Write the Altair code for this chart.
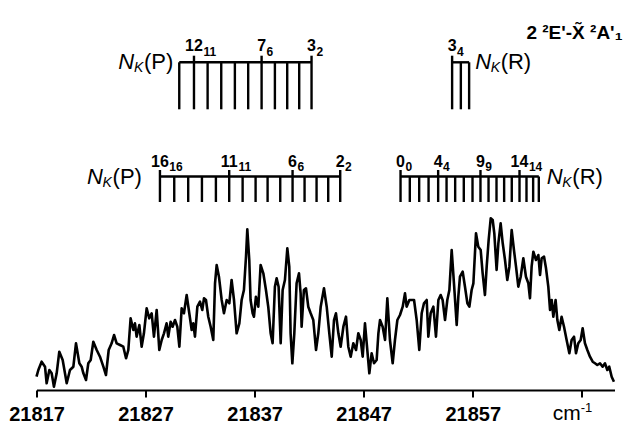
import altair as alt
import pandas as pd

FONT = "Liberation Sans"
X0 = 21817

# ---- spectrum (wavenumber offset from 21817 cm-1, intensity arb. units) ----
spec_offset = [
    0.0, 0.17, 0.47, 0.78, 0.93, 1.18, 1.39, 1.60, 1.85, 2.09,
    2.40, 2.77, 3.07, 3.38, 3.62, 3.93, 4.14, 4.30, 4.54, 4.75,
    4.97, 5.21, 5.52, 5.82, 6.13, 6.37, 6.62, 6.89, 7.11, 7.35,
    7.66, 7.96, 8.21, 8.42, 8.63, 8.88, 9.03, 9.18, 9.43, 9.64,
    9.85, 10.10, 10.34, 10.56, 10.77, 11.02, 11.26, 11.48, 11.69, 11.93,
    12.08, 12.30, 12.48, 12.70, 12.91, 13.10, 13.31, 13.52, 13.77, 14.01,
    14.23, 14.38, 14.53, 14.75, 14.99, 15.20, 15.36, 15.54, 15.75, 15.97,
    16.21, 16.37, 16.52, 16.73, 16.98, 17.19, 17.44, 17.68, 17.89, 18.11,
    18.35, 18.60, 18.81, 19.02, 19.21, 19.33, 19.51, 19.63, 19.82, 19.94,
    20.12, 20.34, 20.55, 20.80, 21.04, 21.25, 21.47, 21.65, 21.86, 22.02,
    22.20, 22.39, 22.57, 22.78, 23.00, 23.18, 23.30, 23.46, 23.64, 23.85,
    24.07, 24.22, 24.31, 24.52, 24.71, 24.92, 25.14, 25.38, 25.63, 25.84,
    26.06, 26.36, 26.61, 26.85, 27.07, 27.28, 27.46, 27.68, 27.89, 28.14,
    28.38, 28.59, 28.81, 29.05, 29.30, 29.51, 29.73, 29.91, 30.12, 30.28,
    30.52, 30.73, 30.95, 31.19, 31.35, 31.50, 31.74, 31.96, 32.17, 32.41,
    32.66, 32.87, 33.09, 33.33, 33.58, 33.79, 33.94, 34.19, 34.40, 34.62,
    34.86, 35.10, 35.32, 35.53, 35.78, 35.93, 36.14, 36.39, 36.63, 36.85,
    37.06, 37.24, 37.46, 37.67, 37.86, 38.07, 38.28, 38.53, 38.68, 38.83,
    39.08, 39.29, 39.51, 39.69, 39.90, 40.06, 40.30, 40.51, 40.73, 40.91,
    41.12, 41.28, 41.46, 41.65, 41.83, 41.98, 42.19, 42.35, 42.56, 42.75,
    42.96, 43.17, 43.36, 43.57, 43.78, 43.97, 44.18, 44.40, 44.64, 44.88,
    45.10, 45.25, 45.40, 45.56, 45.80, 46.02, 46.17, 46.32, 46.54, 46.72,
    46.93, 47.09, 47.24, 47.39, 47.60, 47.76, 47.94, 48.15, 48.37, 48.61,
    48.86, 49.07, 49.29, 49.47, 49.68, 49.90, 50.08, 50.29, 50.51, 50.75,
    51.00, 51.21, 51.42, 51.67, 51.91, 52.13, 52.34, 52.52, 52.74, 52.95,
]
spec_intensity = [
    13.3, 20, 28.3, 23.3, 6.7, 20, 16.7, 3.3, 16.7, 38.3,
    30, 6.7, 20, 23.3, 46.7, 26.7, 23.3, 16.7, 10, 26.7,
    30, 48.3, 40, 33.3, 23.3, 15, 40, 46.7, 55, 46.7,
    45, 43.3, 31.7, 40, 71.7, 60, 66.7, 53.3, 65, 43.3,
    56.7, 81.7, 71.7, 76.7, 53.3, 80, 40, 50, 56.7, 66.7,
    53.3, 68.3, 63.3, 70, 63.3, 43.3, 81.7, 76.7, 95, 76.7,
    60, 66.7, 53.3, 83.3, 88.3, 80, 91.7, 90, 73.3, 63.3,
    50, 106.7, 125, 113.3, 90, 76.7, 90, 86.7, 110, 90,
    56.7, 66.7, 90, 100, 133.3, 160.7, 130, 90, 76.7, 73.3,
    93.3, 83.3, 125, 116.7, 100, 83.3, 56.7, 46.7, 103.3, 111.7,
    103.3, 46.7, 100, 110, 141.7, 123.3, 56.7, 26.7, 56.7, 106.7,
    116.7, 96.7, 63.3, 100, 101.7, 83.3, 76.7, 70, 40, 56.7,
    83.3, 101.7, 83.3, 56.7, 33.3, 70, 76.7, 56.7, 43.3, 63.3,
    73.3, 43.3, 33.3, 46.7, 40, 56.7, 50, 33.3, 66.7, 46.7,
    16.7, 36.7, 26.7, 30, 56.7, 70, 63.3, 50, 91.7, 50,
    26.7, 50, 70, 75, 83.3, 96.7, 83.3, 90, 90, 90,
    70, 40, 76.7, 86.7, 90, 53.3, 76.7, 83.3, 53.3, 90,
    95, 90, 70, 90, 100, 140, 106.7, 65, 93.3, 113.3,
    118.3, 103.3, 86.7, 83.3, 100, 106.7, 156.7, 143.3, 140, 116.7,
    95, 123.3, 150, 171.7, 170, 156.7, 120, 146.7, 166.7, 146.7,
    130, 110, 123.3, 160, 140, 123.3, 103.3, 113.3, 131.7, 113.3,
    106.7, 91.7, 123.3, 138.3, 130, 135, 115, 131.7, 133.3, 121.7,
    103.3, 80, 90, 73.3, 90, 70, 60, 73.3, 63.3, 50,
    36.7, 50, 53.3, 36.7, 46.7, 50, 61.7, 46.7, 40, 33.3,
    28.3, 26.7, 25, 26.7, 23.3, 26.7, 20, 23.3, 13.3, 8.3,
]

# ---- rotational stick assignments (cm-1) ----
upper_p_wn = [21830.09, 21831.44, 21832.69, 21833.94, 21835.19, 21836.41,
              21837.64, 21838.86, 21839.99, 21841.09, 21842.22]
upper_p_idx = [1, 6, 10]
upper_p_main = ["12", "7", "3"]
upper_p_sub = ["11", "6", "2"]

upper_r_wn = [21855.11, 21855.91, 21856.67]
upper_r_idx = [0]
upper_r_main = ["3"]
upper_r_sub = ["4"]

lower_p_wn = [21828.32, 21829.63, 21830.91, 21832.17, 21833.45, 21834.67,
              21835.90, 21837.09, 21838.19, 21839.35, 21840.48, 21841.58,
              21842.68, 21843.75, 21844.85]
lower_p_idx = [0, 5, 10, 14]
lower_p_main = ["16", "11", "6", "2"]
lower_p_sub = ["16", "11", "6", "2"]

lower_r_wn = [21850.38, 21851.23, 21852.09, 21852.95, 21853.83, 21854.60,
              21855.39, 21856.18, 21856.98, 21857.71, 21858.45, 21859.18,
              21859.88, 21860.58, 21861.29, 21861.93, 21862.54, 21863.06]
lower_r_idx = [0, 4, 9, 14]
lower_r_main = ["0", "4", "9", "14"]
lower_r_sub = ["0", "4", "9", "14"]

tick_values = [21817, 21827, 21837, 21847, 21857, 21867]
title_text = "2 \u00b2E'-X\u0303 \u00b2A'\u2081"

# ---- layout levels (in intensity units of the shared y scale) ----
UP = dict(bar=327.7, bot=280.7, top=334.3, lbl=339.3, sub=334.0)
LO = dict(bar=213.5, bot=188.0, top=220.0, lbl=223.3, sub=219.5)

diagrams = [
    (upper_p_wn, upper_p_idx, upper_p_main, upper_p_sub, UP, "P", 6),
    (upper_r_wn, upper_r_idx, upper_r_main, upper_r_sub, UP, "R", 6),
    (lower_p_wn, lower_p_idx, lower_p_main, lower_p_sub, LO, "P", 18),
    (lower_r_wn, lower_r_idx, lower_r_main, lower_r_sub, LO, "R", 8),
]

stick_rows, bar_rows, lab_rows = [], [], []
for wns, idx, mains, subs, lv, side, gap in diagrams:
    for i, w in enumerate(wns):
        stick_rows.append({"wn": w, "I": lv["bot"], "I2": lv["top"] if i in idx else lv["bar"]})
    bar_rows.append({"wn": min(wns), "wn2": max(wns), "I": lv["bar"]})
    for j, m, s in zip(idx, mains, subs):
        lab_rows.append({"wn": wns[j], "I": lv["lbl"], "Isub": lv["sub"], "main": m, "sub": s, "nd": len(m)})

spec = pd.DataFrame({"wn": [X0 + o for o in spec_offset], "I": spec_intensity})
sticks = pd.DataFrame(stick_rows)
bars = pd.DataFrame(bar_rows)
labs = pd.DataFrame(lab_rows)

XS = alt.Scale(domain=[21817, 21870], nice=False, zero=False)
YS = alt.Scale(domain=[0, 370], nice=False, zero=False)


def ex(f="wn"):
    return alt.X(f"{f}:Q", scale=XS, title=None)


def ey(f="I"):
    return alt.Y(f"{f}:Q", scale=YS, axis=None)


line = alt.Chart(spec).mark_line(color="black", strokeWidth=2.6, strokeJoin="round").encode(
    x=alt.X("wn:Q", scale=XS, title=None, axis=alt.Axis(
        values=tick_values, format="d",
        labelExpr="datum.value == 21867 ? '' : datum.label",
        labelFont=FONT, labelFontSize=20, labelFontWeight="bold", labelColor="black",
        labelPadding=7, labelFlush=False, labelOverlap=False,
        domainColor="black", domainWidth=2, tickColor="black", tickWidth=2, tickSize=7,
        grid=False)),
    y=ey(),
)

stick_layer = alt.Chart(sticks).mark_rule(color="black", strokeWidth=2.4).encode(
    x=ex(), y=ey(), y2=alt.Y2("I2:Q"))
bar_layer = alt.Chart(bars).mark_rule(color="black", strokeWidth=2.4).encode(
    x=ex(), x2=alt.X2("wn2:Q"), y=ey())

main_layer = alt.Chart(labs).mark_text(
    font=FONT, fontSize=16, fontWeight="bold", align="center", baseline="alphabetic", color="black"
).encode(x=ex(), y=ey(), text="main:N")

sub_layers = []
for nd, dx in [(1, 4.9), (2, 9.4)]:
    sub_layers.append(alt.Chart(labs).transform_filter(f"datum.nd == {nd}").mark_text(
        font=FONT, fontSize=12, fontWeight="bold", align="left", baseline="alphabetic",
        color="black", dx=dx
    ).encode(x=ex(), y=ey("Isub"), text="sub:N"))

# N_K(P) / N_K(R) labels
nk_layers = []
for wns, idx, mains, subs, lv, side, gap in diagrams:
    if side == "P":
        df = pd.DataFrame({"wn": [min(wns)], "I": [lv["bar"]]})
        pieces = [("(P)", 22, "normal", -gap, 0, "right"),
                  ("K", 14, "italic", -gap - 30.0, 6, "right"),
                  ("N", 22, "italic", -gap - 39.0, 0, "right")]
    else:
        df = pd.DataFrame({"wn": [max(wns)], "I": [lv["bar"]]})
        pieces = [("N", 22, "italic", gap, 0, "left"),
                  ("K", 14, "italic", gap + 15.5, 6, "left"),
                  ("(R)", 22, "normal", gap + 25.5, 0, "left")]
    for txt, fs, style, dx, dy, al in pieces:
        nk_layers.append(alt.Chart(df).mark_text(
            text=txt, font=FONT, fontSize=fs, fontStyle=style, align=al, baseline="middle",
            color="black", dx=dx, dy=dy).encode(x=ex(), y=ey()))

title_df = pd.DataFrame({"wn": [21870], "I": [357]})
title_layer = alt.Chart(title_df).mark_text(
    text=title_text, font=FONT, fontSize=19, fontWeight="bold", align="right",
    baseline="middle", color="black", dx=8).encode(x=ex(), y=ey())

unit_df = pd.DataFrame({"wn": [21867], "I": [-30.0], "I2": [-21.5]})
cm_layer = alt.Chart(unit_df).mark_text(
    text="cm", font=FONT, fontSize=21, align="right", baseline="alphabetic", color="black", dx=-1
).encode(x=ex(), y=ey())
exp_layer = alt.Chart(unit_df).mark_text(
    text="-1", font=FONT, fontSize=13, align="left", baseline="alphabetic", color="black", dx=-1
).encode(x=ex(), y=ey("I2"))

chart = alt.layer(
    line, stick_layer, bar_layer, main_layer, *sub_layers, *nk_layers, title_layer, cm_layer, exp_layer
).properties(
    width=578, height=370,
    autosize=alt.AutoSizeParams(type="none"),
    padding={"left": 28.5, "top": 12, "right": 9.5, "bottom": 35},
    background="white",
).configure_view(stroke=None)

chart.save("out.html", embed_options={"renderer": "svg", "actions": False})
